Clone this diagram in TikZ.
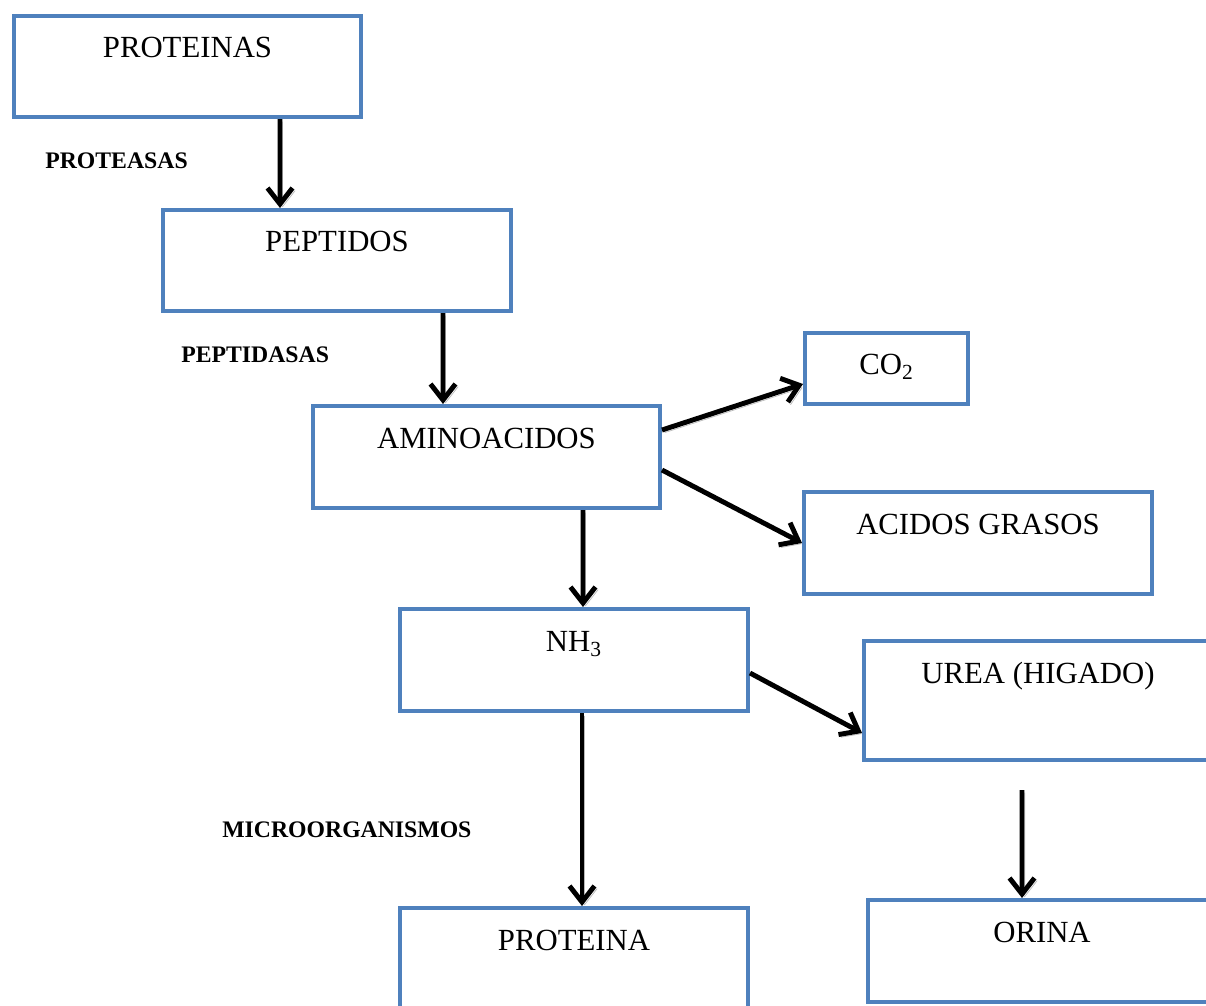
\documentclass[tikz,border=0pt]{standalone}
\usepackage{fontspec}
\setmainfont{Liberation Serif}
\usepackage{tikz}
\usetikzlibrary{arrows.meta}
\usetikzlibrary{calc}

\definecolor{boxblue}{HTML}{4F81BD}

\begin{document}
\begin{tikzpicture}[x=0.02cm, y=-0.02cm,
	caja/.style={draw=boxblue, line width=2.3pt, minimum width=6.96cm, minimum height=2.02cm,
		inner sep=0pt, text height=0.84cm, text depth=1.18cm, font=\fontsize{17.5}{21}\selectfont},
	enzima/.style={anchor=base west, inner sep=0pt, font=\fontsize{13.5}{16}\selectfont\bfseries},
	flecha/.style={line width=2.8pt, -{Straight Barb[length=0.32cm, width=0.5cm]},
		preaction={draw=gray!55, transform canvas={xshift=1.5pt, yshift=-1.5pt}}}]
	\useasboundingbox (0,0) rectangle (1206,1006);
	\clip (0,0) rectangle (1206,1006);

	% cajas
	\node[caja, minimum width=6.94cm] (proteinas) at (187.5,66.5) {PROTEINAS};
	\node[caja] (peptidos) at (337,260.5) {PEPTIDOS};
	\node[caja, minimum width=6.94cm, minimum height=2.04cm] (aminoacidos) at (486.5,457) {AMINOACIDOS};
	\node[caja, minimum width=3.26cm, minimum height=1.42cm, text depth=0.58cm] (co2) at (886.5,368.5) {CO\textsubscript{2}};
	\node[caja, minimum height=2.04cm] (acidos) at (978,543) {ACIDOS GRASOS};
	\node[caja, minimum height=2.04cm] (nh3) at (574,660) {NH\textsubscript{3}};
	\node[caja, minimum height=2.38cm, text depth=1.54cm] (urea) at (1038,700.5) {UREA (HIGADO)};
	\node[caja] (proteina) at (574,958.5) {PROTEINA};
	\node[caja, minimum height=2.04cm] (orina) at (1042,951) {ORINA};

	% enzimas
	\node[enzima] (proteasas) at (45,169) {PROTEASAS};
	\node[enzima] (peptidasas) at (181,363) {PEPTIDASAS};
	\node[enzima] (micro) at (222,837) {MICROORGANISMOS};

	% flechas
	\draw[flecha] ([xshift=1.85cm]proteinas.south) -- ([xshift=-1.14cm]peptidos.north);
	\draw[flecha] ([xshift=2.12cm]peptidos.south) -- ([xshift=-0.87cm]aminoacidos.north);
	\draw[flecha] ([yshift=0.54cm]aminoacidos.east) -- ([yshift=-0.31cm]co2.west);
	\draw[flecha] ([yshift=-0.26cm]aminoacidos.east) -- (acidos.west);
	\draw[flecha] ([xshift=1.93cm]aminoacidos.south) -- ([xshift=0.18cm]nh3.north);
	\draw[flecha] ([yshift=-0.26cm]nh3.east) -- ([yshift=-0.65cm]urea.west);
	\draw[flecha] ([xshift=0.16cm]nh3.south) -- ([xshift=0.16cm]proteina.north);
	\draw[flecha] ([xshift=-0.32cm, yshift=-0.56cm]urea.south) -- ([xshift=-0.4cm]orina.north);
\end{tikzpicture}
\end{document}
